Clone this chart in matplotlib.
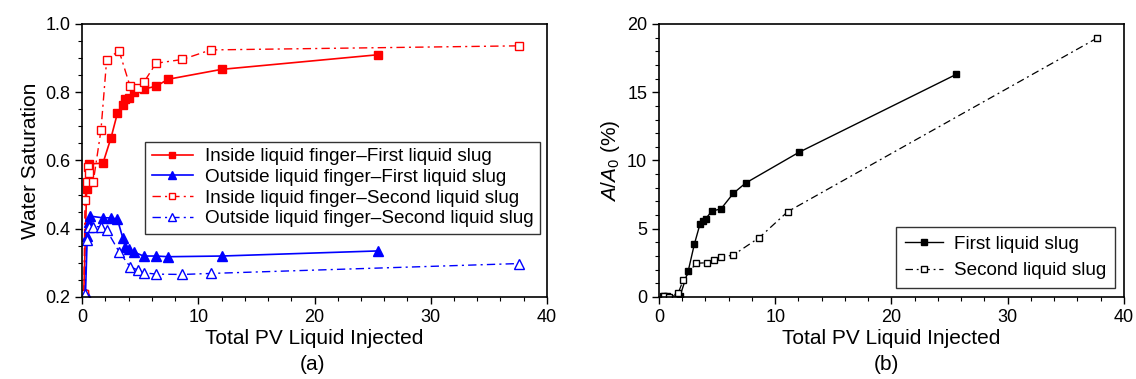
import matplotlib.pyplot as plt
from matplotlib.ticker import MultipleLocator

# ----------------------------------------------------
# DATA
# ----------------------------------------------------
# (a) water saturation
in1_x = [0.15, 0.4, 0.6, 1.8, 2.5, 3.04, 3.5, 3.73, 4.0, 4.5, 5.3, 6.4, 7.4, 12.0, 25.5]
in1_y = [0.21, 0.516, 0.59, 0.592, 0.667, 0.738, 0.763, 0.779, 0.784, 0.802, 0.809, 0.818, 0.838, 0.867, 0.910]

out1_x = [0.3, 0.45, 0.6, 0.7, 1.78, 2.5, 3.04, 3.5, 3.73, 4.0, 4.5, 5.3, 6.4, 7.4, 12.0, 25.5]
out1_y = [0.21, 0.38, 0.42, 0.437, 0.432, 0.432, 0.428, 0.374, 0.346, 0.341, 0.331, 0.32, 0.32, 0.318, 0.32, 0.335]

in2_x = [0.15, 0.26, 0.4, 0.54, 0.6, 0.97, 1.63, 2.12, 3.18, 4.13, 4.79, 5.33, 6.37, 8.63, 11.07, 37.6]
in2_y = [0.21, 0.484, 0.538, 0.582, 0.562, 0.538, 0.689, 0.895, 0.922, 0.818, 0.811, 0.830, 0.885, 0.896, 0.924, 0.936]

out2_x = [0.26, 0.4, 0.6, 0.97, 1.63, 2.12, 3.18, 4.13, 4.79, 5.33, 6.37, 8.63, 11.07, 37.6]
out2_y = [0.21, 0.367, 0.406, 0.406, 0.406, 0.396, 0.333, 0.289, 0.279, 0.271, 0.267, 0.266, 0.269, 0.298]

# (b) A/A0 (%)
b1_x = [0.37, 0.66, 1.8, 2.52, 3.04, 3.53, 3.76, 4.02, 4.56, 5.33, 6.4, 7.46, 12.04, 25.55]
b1_y = [0.07, 0.1, 0.05, 1.93, 3.86, 5.35, 5.57, 5.74, 6.3, 6.45, 7.6, 8.35, 10.6, 16.3]

b2_x = [0.4, 0.84, 1.66, 2.09, 3.18, 4.16, 4.76, 5.33, 6.4, 8.63, 11.07, 37.65]
b2_y = [0.05, 0.0, 0.3, 1.25, 2.47, 2.51, 2.71, 2.9, 3.08, 4.35, 6.25, 18.95]

legend_a = ["Inside liquid finger\u2013First liquid slug",
            "Outside liquid finger\u2013First liquid slug",
            "Inside liquid finger\u2013Second liquid slug",
            "Outside liquid finger\u2013Second liquid slug"]
legend_b = ["First liquid slug", "Second liquid slug"]

# ----------------------------------------------------
# STYLE
# ----------------------------------------------------
plt.rcParams['font.family'] = ['Liberation Sans', 'DejaVu Sans']
plt.rcParams['mathtext.fontset'] = 'custom'
plt.rcParams['mathtext.rm'] = 'Liberation Sans'
plt.rcParams['mathtext.it'] = 'Liberation Sans:italic'
FS = 13       # tick labels
FS_LAB = 15   # axis labels
FS_LEG = 13.6
DASHDOT = (0, (6, 3, 1.5, 3))


def style_axis(ax, ymin, ymax, ymajor, yminor):
    ax.set_xlim(0, 40)
    ax.set_ylim(ymin, ymax)
    ax.xaxis.set_major_locator(MultipleLocator(10))
    ax.xaxis.set_minor_locator(MultipleLocator(2))
    ax.yaxis.set_major_locator(MultipleLocator(ymajor))
    ax.yaxis.set_minor_locator(MultipleLocator(yminor))
    ax.tick_params(which='major', direction='out', length=5, width=1, labelsize=FS)
    ax.tick_params(which='minor', direction='out', length=3, width=0.8)
    for s in ax.spines.values():
        s.set_linewidth(1.2)
    ax.set_xlabel("Total PV Liquid Injected", fontsize=FS_LAB, labelpad=2)


fig = plt.figure(figsize=(11.36, 3.79), dpi=100)
ax1 = fig.add_axes([0.0722, 0.2164, 0.4093, 0.7203])
ax2 = fig.add_axes([0.5801, 0.2164, 0.4093, 0.7203])

# ----------------------------------------------------
# PANEL (a)
# ----------------------------------------------------
ax1.plot(in1_x, in1_y, color='red', lw=1.2, marker='s', ms=6, mfc='red', mec='red', label=legend_a[0])
ax1.plot(out1_x, out1_y, color='blue', lw=1.2, marker='^', ms=7, mfc='blue', mec='blue', label=legend_a[1])
ax1.plot(in2_x, in2_y, color='red', lw=1.0, ls=DASHDOT, marker='s', ms=6, mfc='white', mec='red', label=legend_a[2])
ax1.plot(out2_x, out2_y, color='blue', lw=1.0, ls=DASHDOT, marker='^', ms=7, mfc='white', mec='blue', label=legend_a[3])
style_axis(ax1, 0.2, 1.0, 0.2, 0.05)
ax1.set_ylabel("Water Saturation", fontsize=FS_LAB)
leg = ax1.legend(loc='center', bbox_to_anchor=(0.56, 0.40), fontsize=FS_LEG, frameon=True, fancybox=False,
                 edgecolor='black', handlelength=2.2, handletextpad=0.6, borderpad=0.35, labelspacing=0.18,
                 markerscale=0.8)
leg.get_frame().set_linewidth(1.0)

# ----------------------------------------------------
# PANEL (b)
# ----------------------------------------------------
ax2.plot(b1_x, b1_y, color='black', lw=1.0, marker='s', ms=5, mfc='black', mec='black', label=legend_b[0])
ax2.plot(b2_x, b2_y, color='black', lw=0.9, ls=DASHDOT, marker='s', ms=5, mfc='white', mec='black', label=legend_b[1])
style_axis(ax2, 0, 20, 5, 1)
ax2.set_ylabel("$A/A_\\mathrm{0}$ (%)", fontsize=FS_LAB)
leg2 = ax2.legend(loc='lower right', bbox_to_anchor=(0.98, 0.033), borderaxespad=0, fontsize=FS_LEG,
                  frameon=True, fancybox=False, edgecolor='black', handlelength=2.0, handletextpad=0.6,
                  borderpad=0.45, labelspacing=0.5, markerscale=0.8)
leg2.get_frame().set_linewidth(1.0)

fig.text(0.2755, 0.025, "(a)", ha='center', fontsize=FS_LAB)
fig.text(0.7805, 0.025, "(b)", ha='center', fontsize=FS_LAB)

fig.savefig("out.png", dpi=100)
